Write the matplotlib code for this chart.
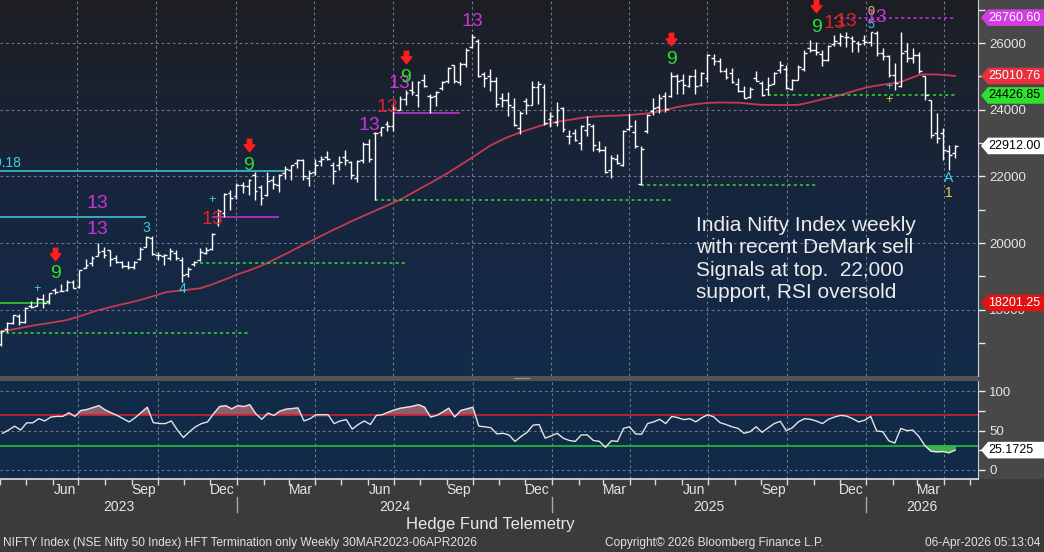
import numpy as np
import pandas as pd
import matplotlib
matplotlib.use('Agg')
import matplotlib.pyplot as plt
import matplotlib.dates as mdates
import matplotlib.transforms as mtransforms
from matplotlib.patches import Polygon, Rectangle
from matplotlib.path import Path
from matplotlib.lines import Line2D
from matplotlib.colors import LinearSegmentedColormap

plt.rcParams['font.family'] = ['Liberation Sans', 'DejaVu Sans']

# ---- weekly OHLC, NIFTY ----
opens = [16980, 17430, 17610, 17810, 17640, 18120, 18120, 18330, 18250, 18600,
         18570, 18600, 18840, 18680, 19250, 19390, 19600, 19750, 19780, 19540,
         19420, 19320, 19280, 19530, 19890, 20150, 19640, 19620, 19540, 19700,
         19500, 19060, 19360, 19480, 19700, 19830, 20600, 20900, 21500, 21420,
         21730, 21700, 22050, 21680, 21430, 21880, 21750, 22100, 22200, 22400,
         22500, 21950, 22120, 22450, 22580, 22340, 22340, 22570, 22420, 21960,
         22500, 22960, 23300, 23320, 23570, 23500, 24000, 24330, 24580, 24450,
         24900, 24400, 24400, 24640, 24850, 25330, 24820, 25380, 25870, 26060,
         25080, 25000, 24850, 24340, 24300, 24090, 23450, 24250, 24140, 24680,
         24670, 23730,
         23640, 24050, 23200, 23290, 23000, 23400, 23500, 22810, 22800, 22190,
         22520, 22350, 23420, 23340, 21760, 23370, 23950, 24070, 24420, 24420,
         25010, 24900, 24720, 25010, 24730, 24940, 25550, 25460, 25150, 25110,
         24780, 24560, 24370, 24940, 24800, 24620, 24770, 25180, 25230, 24630,
         24900, 25230, 25850, 25790, 25680, 25480, 25960, 25990, 26180, 26160,
         25990, 26080,
         26040, 26300, 25700, 25600, 25050, 24700, 25750, 25550, 25650, 25000,
         24280, 23300, 23300, 22750, 22700]
highs = [17380, 17640, 17840, 17860, 18090, 18265, 18390, 18460, 18510, 18660,
         18780, 18880, 18890, 19200, 19520, 19600, 19990, 19870, 19800, 19650,
         19470, 19450, 19460, 19870, 20222, 20200, 19730, 19660, 19850, 19800,
         19590, 19270, 19460, 19850, 19880, 20290, 21010, 21490, 21590, 21800,
         21835, 21930, 22125, 21750, 22125, 22000, 22070, 22300, 22350, 22530,
         22530, 22180, 22520, 22620, 22770, 22430, 22620, 22790, 22460, 22500,
         23030, 23110, 23340, 23490, 23670, 24170, 24400, 24590, 24850, 24860,
         25080, 24470, 24570, 24870, 25270, 25330, 25430, 25850, 26277, 26130,
         25120, 25210, 24980, 24500, 24540, 24340, 23950, 24350, 24860, 24860,
         24780, 23940,
         24230, 24090, 23390, 23420, 23550, 23810, 23570, 23050, 22920, 22630,
         22680, 23400, 23870, 23700, 22920, 23870, 24360, 24460, 24530, 25120,
         25070, 25080, 25030, 25220, 25140, 25670, 25670, 25550, 25250, 25250,
         24960, 24720, 24670, 25150, 24860, 24980, 25140, 25450, 25330, 24910,
         25330, 25780, 26104, 26040, 25800, 25940, 26250, 26310, 26330, 26200,
         26070, 26230,
         26340, 26370, 25850, 25640, 25400, 26330, 26000, 25850, 25730, 25000,
         24290, 23900, 23450, 22940, 22940]
lows = [16900, 17320, 17560, 17550, 17610, 18040, 18100, 18060, 18180, 18460,
        18550, 18560, 18650, 18650, 19250, 19300, 19600, 19560, 19300, 19400,
        19260, 19230, 19220, 19500, 19870, 19650, 19490, 19330, 19480, 19500,
        18837, 18970, 19300, 19460, 19680, 19800, 20500, 20770, 20980, 21330,
        21500, 21450, 21285, 21137, 21400, 21630, 21530, 21920, 21900, 22250,
        21900, 21710, 22050, 22300, 22500, 21780, 22180, 22350, 21930, 21820,
        22400, 22420, 21281, 23200, 23350, 23350, 23990, 24140, 24450, 24070,
        24690, 23890, 24100, 24580, 24810, 24800, 24750, 25290, 25850, 24970,
        24690, 24570, 24070, 24080, 23820, 23510, 23260, 23870, 24140, 24180,
        23540, 23470,
        23500, 23340, 22980, 23050, 22790, 23220, 22770, 22730, 22100, 21964,
        22380, 22310, 23400, 22860, 21743, 23300, 23850, 23890, 23940, 24370,
        24460, 24460, 24670, 24470, 24700, 24820, 25330, 25130, 24920, 24800,
        24540, 24340, 24340, 24850, 24400, 24430, 24760, 25100, 24630, 24590,
        24880, 25160, 25720, 25650, 25320, 25450, 25900, 25910, 25890, 25730,
        25730, 25930,
        25900, 25620, 25480, 24980, 24590, 24680, 25430, 25400, 25100, 24290,
        23150, 23000, 22490, 22190, 22550]
closes = [17360, 17600, 17828, 17624, 18065, 18069, 18315, 18203, 18499, 18534,
          18563, 18826, 18665, 19189, 19332, 19565, 19745, 19646, 19517, 19428,
          19310, 19266, 19435, 19820, 20192, 19674, 19638, 19654, 19751, 19542,
          19047, 19230, 19425, 19732, 19795, 20268, 20969, 21457, 21349, 21731,
          21711, 21894, 21572, 21353, 21854, 21782, 22041, 22213, 22339, 22494,
          22023, 22097, 22327, 22514, 22519, 22147, 22420, 22476, 22055, 22467,
          22957, 22531, 23290, 23466, 23501, 24011, 24324, 24502, 24531, 24835,
          24718, 24368, 24541, 24823, 25236, 24852, 25357, 25791, 26179, 25015,
          24964, 24854, 24181, 24305, 24148, 23533, 23907, 24131, 24678, 24768,
          23588, 23814,
          24005, 23432, 23203, 23092, 23508, 23560, 22929, 22796, 22125, 22553,
          22397, 23350, 23519, 22904, 22829, 23852, 24039, 24347, 24008, 25020,
          24853, 24751, 25003, 24719, 25112, 25638, 25461, 25150, 24968, 24837,
          24565, 24363, 24631, 24870, 24427, 24741, 25114, 25327, 24655, 24894,
          25285, 25710, 25795, 25722, 25492, 25910, 26068, 26203, 26186, 26047,
          25966, 26042,
          26320, 25690, 25600, 25050, 24800, 25700, 25550, 25650, 25150, 24450,
          23250, 23150, 22800, 22650, 22912]

# moving average line (red)
ma = [17340, 17375, 17410, 17445, 17480, 17515, 17545, 17570, 17600, 17630,
      17660, 17690, 17745, 17800, 17860, 17920, 17980, 18025, 18070, 18115,
      18160, 18200, 18240, 18290, 18340, 18395, 18450, 18510, 18540, 18560,
      18580, 18600, 18620, 18640, 18700, 18760, 18830, 18900, 18970, 19050,
      19110, 19170, 19240, 19310, 19390, 19480, 19570, 19660, 19750, 19845,
      19940, 20030, 20120, 20210, 20300, 20390, 20475, 20560, 20650, 20730,
      20810, 20890, 20970, 21050, 21130, 21210, 21290, 21390, 21490, 21590,
      21690, 21790, 21890, 21995, 22100, 22215, 22330, 22445, 22560, 22680,
      22800, 22920, 23010, 23100, 23180, 23250, 23320, 23380, 23440, 23500,
      23550, 23600, 23630, 23660, 23690, 23720, 23750, 23775, 23790, 23800,
      23810, 23815, 23820, 23830, 23840, 23855, 23870, 23890, 23910, 23950,
      23990, 24035, 24080, 24110, 24140, 24165, 24185, 24200, 24210, 24215,
      24215, 24210, 24210, 24195, 24175, 24160, 24145, 24140, 24140, 24140,
      24140, 24140, 24145, 24180, 24220, 24265, 24310, 24350, 24390, 24440,
      24490, 24545, 24600, 24650, 24690, 24720, 24750, 24775, 24800, 24830,
      24900, 24970, 25040, 25060, 25060, 25055, 25045, 25030, 25010]

# RSI (lower panel)
rsi = [46.5, 50.6, 55.5, 50.6, 59.7, 59.7, 65.0, 62.1, 67.1, 67.9,
       67.9, 72.4, 67.9, 75.3, 76.6, 79.0, 81.5, 76.1, 72.4, 69.1,
       65.0, 60.9, 66.3, 72.8, 79.4, 60.0, 58.8, 58.8, 62.1, 50.6,
       41.1, 48.5, 54.7, 58.8, 60.9, 71.2, 80.3, 81.5, 77.4, 81.5,
       80.3, 82.7, 71.2, 64.2, 72.0, 69.1, 74.5, 77.0, 77.8, 78.6,
       62.1, 65.0, 70.0, 70.0, 70.0, 58.8, 62.1, 63.8, 51.8, 57.6,
       62.1, 57.6, 69.1, 70.0, 73.3, 76.1, 78.2, 79.4, 80.7, 82.7,
       79.4, 67.1, 69.1, 73.3, 78.2, 67.1, 75.3, 77.4, 79.4, 55.5,
       54.7, 53.5, 45.7, 46.5, 44.4, 36.2, 42.4, 47.7, 56.8, 57.6,
       40.3, 43.2, 46.5, 40.3, 37.4, 36.2, 44.4, 44.4, 37.4, 36.2,
       28.8, 37.0, 36.2, 52.7, 54.7, 45.7, 45.2, 58.8, 60.9, 64.2,
       58.8, 67.9, 66.3, 63.8, 65.0, 60.9, 66.3, 70.0, 67.1, 60.0,
       57.6, 54.7, 52.7, 46.5, 48.5, 54.7, 47.7, 53.5, 58.8, 61.7,
       49.8, 53.5, 60.9, 65.0, 64.2, 62.0, 58.8, 64.2, 67.1, 69.1,
       68.3, 65.0, 60.9, 63.0, 67.9, 49.4, 48.5, 37.0, 34.1, 52.7,
       49.8, 50.6, 42.4, 30.8, 23.8, 23.0, 23.4, 21.8, 25.2]

# DeMark count labels: (bar index, price, text, colour key, size)
td_labels = [
    (9, 19100, '9', 'green', 14), (6, 18620, '+', 'cyan', 9),
    (16, 21170, '13', 'magenta', 14), (16, 20390, '13', 'magenta', 14),
    (24, 20450, '3', 'cyan', 10), (30, 18620, '4', 'cyan', 10),
    (35, 21290, '+', 'cyan', 9), (35, 20690, '13', 'red', 14),
    (41, 22340, '9', 'green', 14), (61, 23510, '13', 'magenta', 14),
    (64, 24050, '13', 'red', 14), (66, 24800, '13', 'magenta', 14),
    (67, 24950, '9', 'green', 14), (78, 26660, '13', 'magenta', 14),
    (111, 25490, '9', 'green', 14), (135, 26480, '9', 'green', 14),
    (138, 26600, '13', 'red', 14), (140, 26660, '13', 'red', 14),
    (144, 26930, '0', 'yellow', 9), (144, 26540, '5', 'cyan', 9),
    (145, 26750, '13', 'magenta', 14), (147, 24680, '+', 'cyan', 9),
    (147, 24290, '+', 'yellow', 9), (157, 21950, 'A', 'cyan', 10),
    (157, 21500, '1', 'yellow', 10),
]
arrow_idx = [9, 41, 67, 111, 135]
arrow_px = [19670, 22940, 25580, 26120, 27110]

# TD levels: (start bar, end bar, price, colour key, style)
td_lines = [
    (0, 47, 22169.18, 'cyan', '-'), (0, 24, 20790, 'cyan', '-'),
    (0, 8, 18201.25, 'green', '-'), (0, 41, 17310, 'green', ':'),
    (33, 67, 19410, 'green', ':'), (35, 46, 20790, 'magenta', '-'),
    (62, 111, 21281, 'green', ':'), (65, 76, 23910, 'magenta', '-'),
    (106, 135, 21743, 'green', ':'), (127, 158, 24426.85, 'green', ':'),
    (138, 158, 26760.60, 'magenta', ':'),
]

cols = {'green': '#2ee02e', 'cyan': '#3fcfe3', 'magenta': '#c935d8',
        'red': '#d82626', 'yellow': '#e2d23c'}

dates = pd.date_range('2023-03-31', periods=len(closes), freq='W-FRI')
xs = mdates.date2num(dates)
PX_DAY = 0.8626
x_left = xs[0] - 1.0 / PX_DAY
x_right = xs[0] + 977.0 / PX_DAY

W, H = 1044, 552
fig = plt.figure(figsize=(W / 100, H / 100), dpi=100, facecolor='#3b3b3b')

# right price-axis strip and panel separator
fig.add_artist(Rectangle((978 / W, 73 / H), 66 / W, 479 / H, transform=fig.transFigure,
                         facecolor='#484848', edgecolor='none', zorder=-2))
fig.add_artist(Rectangle((0, 171 / H), 978 / W, 5 / H, transform=fig.transFigure,
                         facecolor='#555555', edgecolor='none', zorder=-2))
fig.add_artist(Rectangle((514 / W, 173 / H), 16 / W, 1.2 / H, transform=fig.transFigure,
                         facecolor='#9a9a9a', edgecolor='none', zorder=-1))

ax = fig.add_axes([0, 176 / H, 978 / W, 376 / H])
ax2 = fig.add_axes([0, 73 / H, 978 / W, 98 / H])

# gradient background of the price panel
bg = LinearSegmentedColormap.from_list('bg', ['#132b4a', '#17253d', '#1d1e23'])
ax.imshow(np.linspace(0, 1, 256).reshape(-1, 1), extent=[0, 1, 0, 1], transform=ax.transAxes,
          aspect='auto', origin='lower', cmap=bg, zorder=0)
ax2.set_facecolor('#112a48')

# grid / tick positions
grid_dates = mdates.date2num(pd.date_range('2023-07-01', '2026-04-01', freq='QS') - pd.Timedelta(days=4))
month_dates = mdates.date2num(pd.date_range('2023-04-01', '2026-05-01', freq='MS') - pd.Timedelta(days=4))
gkw = dict(color='#6c7788', linestyle=(0, (2.5, 2.5)), linewidth=0.8)

# ---- price panel ----
ax.vlines(xs, lows, highs, color='white', linewidth=1.0, zorder=3)
ax.hlines(opens, xs - 3.3, xs, color='white', linewidth=1.0, zorder=3)
ax.hlines(closes, xs, xs + 3.3, color='white', linewidth=1.0, zorder=3)
ax.plot(xs, ma, color='#c63a52', linewidth=1.3, zorder=2)

for s, e, lvl, c, st in td_lines:
    ls = (0, (2, 2)) if st == ':' else '-'
    ax.hlines(lvl, xs[s] - (1.0 / PX_DAY if s == 0 else 0), xs[e], color=cols[c],
              linestyle=ls, linewidth=1.1, zorder=2)

for i, p, t, c, sz in td_labels:
    ax.text(xs[i], p, t, color=cols[c], fontsize=sz, ha='center', va='center', zorder=4)

arrow = Path([(-0.35, 1), (0.35, 1), (0.35, 0.1), (0.85, 0.1), (0, -1), (-0.85, 0.1),
              (-0.35, 0.1), (-0.35, 1)],
             [Path.MOVETO] + [Path.LINETO] * 6 + [Path.CLOSEPOLY])
ax.plot(xs[arrow_idx], arrow_px, linestyle='none', marker=arrow, markersize=9,
        color='#ff1e1e', zorder=4)

ax.set_xlim(x_left, x_right)
ax.set_ylim(16010, 27290)
ax.set_xticks(grid_dates)
ax.set_yticks([18000, 20000, 22000, 24000, 26000])
ax.set_yticks([17000, 19000, 21000, 23000, 25000, 27000], minor=True)
ax.yaxis.tick_right()
ax.tick_params(axis='x', length=0, labelbottom=False)
ax.tick_params(axis='y', which='both', direction='out', length=5, width=1, colors='#e6e6e6',
               labelsize=9.5, pad=3)
ax.grid(True, which='major', **gkw)
ax.set_axisbelow(True)
for side in ['top', 'left', 'bottom']:
    ax.spines[side].set_visible(False)
ax.spines['right'].set_color('#cfcfcf')

# ---- RSI panel ----
r = np.array(rsi)
ax2.plot(xs, r, color='#e4e4e4', linewidth=1.0, zorder=3)
ax2.fill_between(xs, r, 70, where=r >= 70, interpolate=True, color='#8f5d6e', zorder=2)
ax2.fill_between(xs, r, 30, where=r <= 30, interpolate=True, color='#3fae55', zorder=2)
ax2.axhline(70, color='#cc2030', linewidth=1.2, zorder=2)
ax2.axhline(30, color='#24c040', linewidth=1.2, zorder=2)

ax2.set_xlim(x_left, x_right)
ax2.set_ylim(-11.4, 112.7)
ax2.set_xticks(grid_dates)
ax2.set_xticks(month_dates, minor=True)
ax2.set_yticks([0, 50, 100])
ax2.set_yticks([25, 75], minor=True)
ax2.yaxis.tick_right()
ax2.tick_params(axis='x', which='both', direction='out', length=4, width=1, color='#d8d8d8',
                labelbottom=False)
ax2.tick_params(axis='y', which='both', direction='out', length=5, width=1, colors='#e6e6e6',
                labelsize=9.5, pad=3)
ax2.grid(True, which='major', **gkw)
ax2.set_axisbelow(True)
for side in ['top', 'left']:
    ax2.spines[side].set_visible(False)
ax2.spines['right'].set_color('#cfcfcf')
ax2.spines['bottom'].set_color('#e0e0e0')
ax2.spines['bottom'].set_linewidth(1.2)

# month and year labels under the RSI panel
bt = mtransforms.blended_transform_factory(ax2.transData, ax2.transAxes)
for d in pd.date_range('2023-06-01', '2026-03-01', freq='3MS') + pd.Timedelta(days=10):
    ax2.text(mdates.date2num(d), -0.115, d.strftime('%b'), transform=bt, ha='center',
             va='center', color='#e6e6e6', fontsize=10, clip_on=False)
for yr in [2023, 2024, 2025, 2026]:
    y0 = max(mdates.date2num(pd.Timestamp(f'{yr}-01-01') - pd.Timedelta(days=4)), x_left)
    y1 = min(mdates.date2num(pd.Timestamp(f'{yr + 1}-01-01') - pd.Timedelta(days=4)), x_right)
    ax2.text((y0 + y1) / 2, -0.285, str(yr), transform=bt, ha='center', va='center',
             color='#e6e6e6', fontsize=10, clip_on=False)
for g in grid_dates[2::4]:
    ax2.add_line(Line2D([g, g], [-0.185, -0.34], transform=bt, color='#a8a8a8',
                        linewidth=1, clip_on=False))


# value tags on the right axis
def draw_tag(axis, value, label, face, txt):
    yf = axis.transData.transform((x_left, value))[1] / fig.bbox.height
    h = 8.3 / H
    pts = [(981 / W, yf), (988 / W, yf + h), (1.0, yf + h), (1.0, yf - h), (988 / W, yf - h)]
    fig.add_artist(Polygon(pts, closed=True, transform=fig.transFigure, facecolor=face,
                           edgecolor='none', zorder=5))
    fig.text(988 / W, yf, label, color=txt, fontsize=9, ha='left', va='center', zorder=6)


draw_tag(ax, 26760.60, '26760.60', '#d23ee0', 'white')
draw_tag(ax, 25010.76, '25010.76', '#e8303e', 'white')
draw_tag(ax, 24426.85, '24426.85', '#2fe02f', 'black')
draw_tag(ax, closes[-1], f'{closes[-1]:.2f}', 'white', 'black')
draw_tag(ax, 18201.25, '18201.25', '#e01212', 'white')
draw_tag(ax2, 25.1725, '25.1725', 'white', 'black')

# level label cut by the left edge
fig.text(21 / W, 1 - 163 / H, '22169.18', color=cols['cyan'], fontsize=10, ha='right', va='center')

# comment box
fig.text(696 / W, 1 - 216 / H,
         'India Nifty Index weekly\nwith recent DeMark sell\nSignals at top.  22,000\nsupport, RSI oversold',
         color='#ececec', fontsize=15, ha='left', va='top', linespacing=1.22)

# footer
fig.text(490 / W, 1 - 524 / H, 'Hedge Fund Telemetry', color='#e8e8e8', fontsize=12,
         ha='center', va='center')
fig.text(3 / W, 1 - 543 / H,
         'NIFTY Index (NSE Nifty 50 Index) HFT Termination only Weekly 30MAR2023-06APR2026',
         color='#e2e2e2', fontsize=8.6, ha='left', va='center')
fig.text(714 / W, 1 - 543 / H, 'Copyright\u00a9 2026 Bloomberg Finance L.P.', color='#e2e2e2',
         fontsize=8.6, ha='center', va='center')
fig.text(1040 / W, 1 - 543 / H, '06-Apr-2026 05:13:04', color='#e2e2e2', fontsize=8.6,
         ha='right', va='center')

fig.savefig('out.png', dpi=100, facecolor=fig.get_facecolor())
